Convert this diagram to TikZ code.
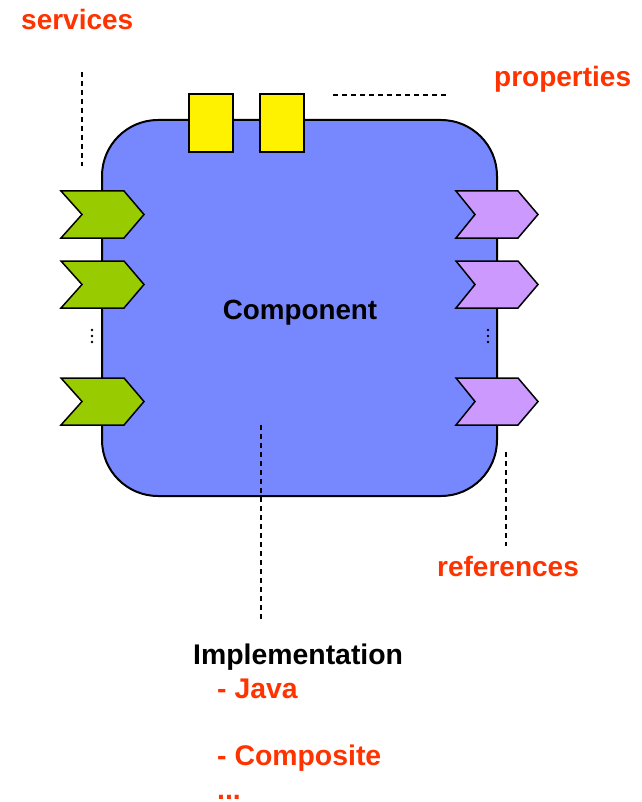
\documentclass[tikz,border=0pt]{standalone}
\usepackage{fontspec}
\setmainfont{Liberation Sans}
\begin{document}
\begin{tikzpicture}[x=1pt,y=-1pt,
  lbl/.style={font=\fontsize{28}{30}\selectfont\bfseries, text=orangered, anchor=base west, inner sep=0},
  impl/.style={font=\fontsize{28.4}{30}\selectfont\bfseries, anchor=base west, inner sep=0},
  leader/.style={draw=black, line width=1.2pt, dash pattern=on 5pt off 4pt},
  svc/.style={fill=svcgreen, draw=black, line width=1.5pt, line join=miter},
  refc/.style={fill=refpurple, draw=black, line width=1.5pt, line join=miter},
  prop/.style={fill=yellow, draw=black, line width=1.5pt}]
\definecolor{orangered}{RGB}{255,51,0}
\definecolor{compblue}{RGB}{119,136,255}
\definecolor{svcgreen}{RGB}{153,204,0}
\definecolor{refpurple}{RGB}{204,153,255}
\useasboundingbox (0,0) rectangle (641,802);
% component body
\draw[fill=compblue, draw=black, line width=2pt, rounded corners=56pt] (102,120) rectangle (497,496);
\node[font=\fontsize{27.8}{30}\selectfont\bfseries, anchor=base, inner sep=0] (comp) at (300,319) {Component};
% properties
\draw[prop] (189,94) rectangle (233,152);
\draw[prop] (260,94) rectangle (304,152);
% services
\foreach \t in {191,261,378}{
  \draw[svc] (61,\t) -- (124,\t) -- (144,\t+23.5) -- (124,\t+47) -- (61,\t+47) -- (82,\t+23.5) -- cycle;
}
% references
\foreach \t in {191,261,378}{
  \draw[refc] (456,\t) -- (518,\t) -- (538,\t+23.5) -- (518,\t+47) -- (456,\t+47) -- (475,\t+23.5) -- cycle;
}
% vertical dots
\foreach \y in {330,336,342}{
  \fill (92,\y) circle (1.4pt);
  \fill (488,\y) circle (1.4pt);
}
% labels
\node[lbl] (svcl) at (21,30) {services};
\node[lbl] (propl) at (494,87) {properties};
\node[lbl] (refl) at (437,576) {references};
\node[impl] (impll) at (193,664) {Implementation};
\node[impl, text=orangered] (java) at (217,698) {- Java};
\node[impl, text=orangered] (compo) at (217,765) {- Composite};
\node[impl, text=orangered] (dots) at (217,799) {...};
% leader lines
\coordinate (s1) at (82,72); \coordinate (s2) at (82,166);
\coordinate (p1) at (333,95); \coordinate (p2) at (448,95);
\coordinate (i1) at (261,425); \coordinate (i2) at (261,620);
\coordinate (r1) at (506,452); \coordinate (r2) at (506,546);
\draw[leader] (s1) -- (s2);
\draw[leader] (p1) -- (p2);
\draw[leader] (i1) -- (i2);
\draw[leader] (r1) -- (r2);
\end{tikzpicture}
\end{document}
